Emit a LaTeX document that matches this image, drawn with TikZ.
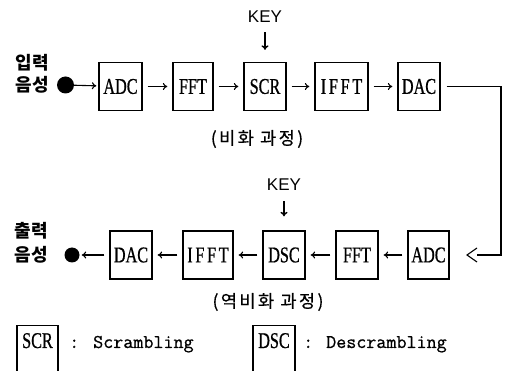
\documentclass[tikz,border=0pt]{standalone}
\usepackage{fontspec}
\usetikzlibrary{arrows.meta}
\newfontfamily\kr{Noto Sans CJK KR}
\newfontfamily\krm[FakeBold=0.6,LetterSpace=14]{Noto Sans CJK KR}
\newfontfamily\boxf[FakeStretch=0.72,FakeBold=0.7]{Liberation Serif}
\newfontfamily\keyf{Liberation Sans}
\newfontfamily\legf[FakeBold=0.8]{Latin Modern Mono}
\begin{document}
\begin{tikzpicture}[x=1pt,y=-1pt,
  blk/.style={draw, line width=1.3pt, inner sep=0pt, minimum width=42pt, minimum height=48pt, font=\boxf\fontsize{22.5}{22.5}\selectfont},
  arr/.style={line width=1.1pt, -{To[length=4.5pt,width=7pt]}, shorten <=5pt, shorten >=5pt},
  wire/.style={line width=1.1pt},
  korb/.style={font=\kr\bfseries\fontsize{18}{18}\selectfont, inner sep=0pt},
  kor/.style={font=\krm\fontsize{17.5}{17.5}\selectfont, inner sep=0pt},
  keyt/.style={font=\keyf\fontsize{17}{17}\selectfont, inner sep=0pt},
  keyarr/.style={line width=1.4pt, -{To[length=4.5pt,width=7pt]}},
  dotn/.style={circle, fill, inner sep=0pt},
  legt/.style={font=\legf\fontsize{19.5}{19.5}\selectfont, inner sep=0pt, anchor=base west},
  boxt/.style={font=\boxf\fontsize{22.5}{22.5}\selectfont, inner sep=0pt, anchor=base}
]
\clip (0,0) rectangle (506,371);
\useasboundingbox (0,0) rectangle (506,371);

% top row
\node[korb] (in1) at (32.5,63) {입력};
\node[korb] (in2) at (32.5,85) {음성};
\node[dotn, minimum size=17pt] (indot) at (65.5,85) {};
\node[blk, minimum width=43pt] (adcT) at (120.5,86.5) {ADC};
\node[blk, minimum width=40pt] (fftT) at (193,86.5) {FFT};
\node[blk] (scrT) at (265,86.5) {SCR};
\node[blk, minimum width=53pt] (ifftT) at (341.5,86.5) {\addfontfeature{LetterSpace=12}IFFT};
\node[blk] (dacT) at (419,86.5) {DAC};
\node[keyt] (key1) at (265,17) {KEY};
\node[kor] (lab1) at (257,139) {(비화 과정)};

\draw[arr, shorten <=0pt, shorten >=2pt] (indot) -- (adcT);
\draw[arr] (adcT) -- (fftT);
\draw[arr] (fftT) -- (scrT);
\draw[arr] (scrT) -- (ifftT);
\draw[arr] (ifftT) -- (dacT);
\draw[keyarr, shorten <=9pt, shorten >=12pt] (key1.south) -- (scrT.north);

% feedback wire
\coordinate (rc) at (501,170);
\coordinate (chevend) at (477,255);
\draw[wire] ([xshift=6pt]dacT.east) -| (rc) |- (chevend);
\draw[wire, line join=miter] ([yshift=7pt]chevend) -- ++(-10,7) -- ++(10,7);

% bottom row
\node[korb] (out1) at (31.5,231) {출력};
\node[korb] (out2) at (31.5,255) {음성};
\node[dotn, minimum size=15pt] (outdot) at (72,255) {};
\node[blk] (dacB) at (131,255) {DAC};
\node[blk, minimum width=50pt] (ifftB) at (208,255) {\addfontfeature{LetterSpace=12}IFFT};
\node[blk] (dscB) at (284,255) {DSC};
\node[blk] (fftB) at (357,255) {FFT};
\node[blk, minimum width=41pt] (adcB) at (428.5,255) {ADC};
\node[keyt] (key2) at (284,185) {KEY};
\node[kor] (lab2) at (268,302) {(역비화 과정)};

\draw[arr] (adcB) -- (fftB);
\draw[arr] (fftB) -- (dscB);
\draw[arr] (dscB) -- (ifftB);
\draw[arr] (ifftB) -- (dacB);
\draw[arr, shorten >=2pt] (dacB) -- (outdot);
\draw[keyarr, shorten <=10pt, shorten >=14pt] (key2.south) -- (dscB.north);

% legend
\node[blk, minimum width=41pt, minimum height=70pt, anchor=north] (scrleg) at (37.5,325) {};
\node[boxt] (scrlegt) at (37.5,348) {SCR};
\node[legt] (scrc) at (69,348) {:};
\node[legt] (scrd) at (93,348) {Scrambling};
\node[blk, minimum width=42pt, minimum height=70pt, anchor=north] (dscleg) at (274,325) {};
\node[boxt] (dsclegt) at (274,348) {DSC};
\node[legt] (dscc) at (303,348) {:};
\node[legt] (dscd) at (326,348) {Descrambling};
\end{tikzpicture}
\end{document}
